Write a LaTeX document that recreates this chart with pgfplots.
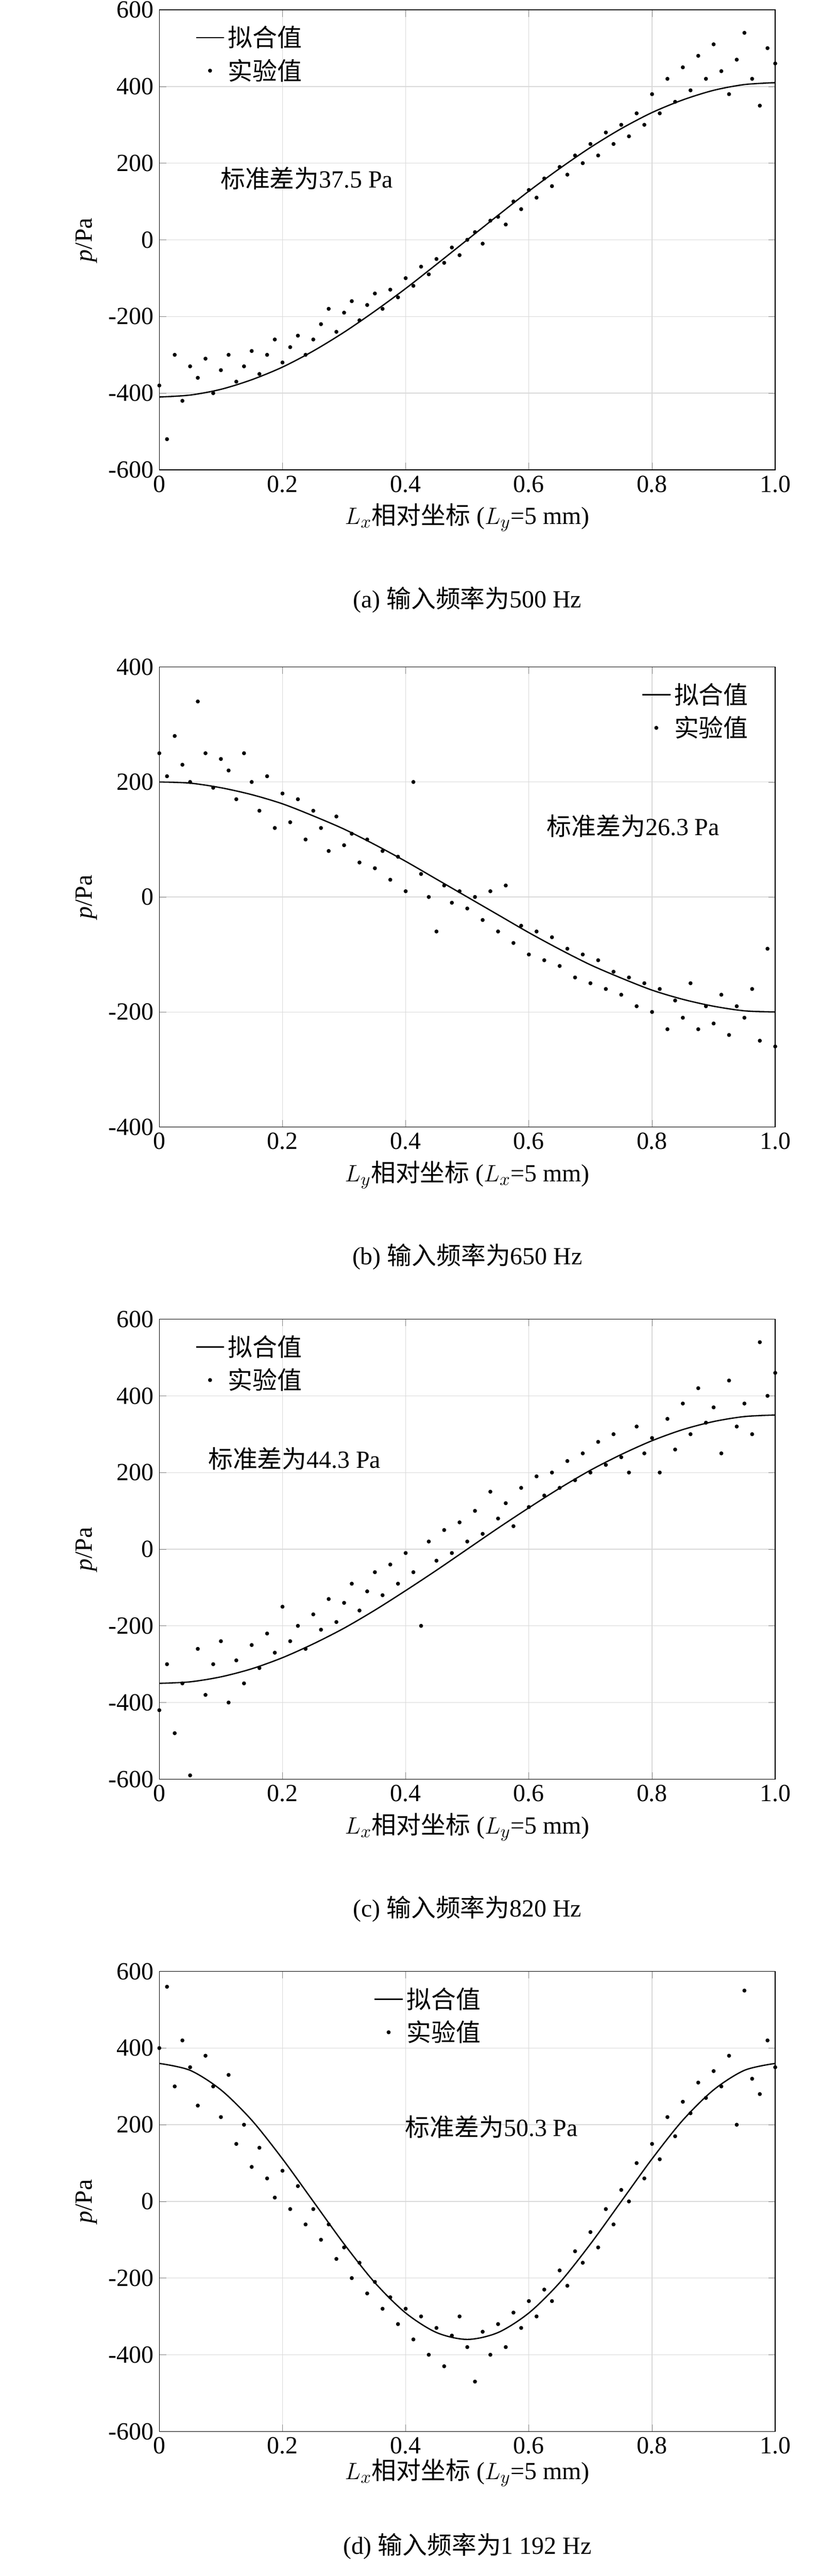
\documentclass[border=0pt]{standalone}
\usepackage{pgfplots}
\pgfplotsset{compat=1.18}
\usepackage{fontspec}
\setmainfont{Liberation Serif}
\newfontfamily\cjk{Noto Sans CJK SC}
\pgfplotsset{my/.style={width=375pt,height=280pt,scale only axis,xmin=0,xmax=1,
 xtick={0,0.2,0.4,0.6,0.8,1.0},xticklabels={0,0.2,0.4,0.6,0.8,1.0},
 grid=major,major grid style={gray!30},tick align=inside,
 /pgf/number format/assume math mode=true,
 ticklabel style={font=\fontsize{15}{18}\selectfont},
 label style={font=\fontsize{15}{18}\selectfont},
 ylabel={\textit{p}/Pa},clip=false,
 legend cell align=left,
 legend style={draw=none,fill=none,font=\fontsize{15}{18}\selectfont,row sep=2pt}},
 fit/.style={black,thick,no marks,smooth},
 dots/.style={only marks,mark=*,mark size=1pt,black}}
\begin{document}
\begin{tikzpicture}
\useasboundingbox (-97pt,0) rectangle (413pt,1568pt);
\begin{axis}[my,at={(0,1282pt)},ymin=-600,ymax=600,ytick={-600,-400,-200,0,200,400,600},
 xlabel={$L_x${\cjk 相对坐标} ($L_y$=5 mm)},legend style={at={(0.05,0.98)},anchor=north west}]
\addplot[fit] coordinates {(0,-410)(0.05,-405)(0.1,-390)(0.15,-365)(0.2,-332)(0.25,-290)(0.3,-241)(0.35,-186)(0.4,-127)(0.45,-64)(0.5,0)(0.55,64)(0.6,127)(0.65,186)(0.7,241)(0.75,290)(0.8,332)(0.85,365)(0.9,390)(0.95,405)(1,410)};
\addlegendentry{\cjk 拟合值}
\addplot[dots] coordinates {(0,-380)(0.0125,-520)(0.025,-300)(0.0375,-420)(0.05,-330)(0.0625,-360)(0.075,-310)(0.0875,-400)(0.1,-340)(0.1125,-300)(0.125,-370)(0.1375,-330)(0.15,-290)(0.1625,-350)(0.175,-300)(0.1875,-260)(0.2,-320)(0.2125,-280)(0.225,-250)(0.2375,-300)(0.25,-260)(0.2625,-220)(0.275,-180)(0.2875,-240)(0.3,-190)(0.3125,-160)(0.325,-210)(0.3375,-170)(0.35,-140)(0.3625,-180)(0.375,-130)(0.3875,-150)(0.4,-100)(0.4125,-120)(0.425,-70)(0.4375,-90)(0.45,-50)(0.4625,-60)(0.475,-20)(0.4875,-40)(0.5,0)(0.5125,20)(0.525,-10)(0.5375,50)(0.55,60)(0.5625,40)(0.575,100)(0.5875,80)(0.6,130)(0.6125,110)(0.625,160)(0.6375,140)(0.65,190)(0.6625,170)(0.675,220)(0.6875,200)(0.7,250)(0.7125,220)(0.725,280)(0.7375,250)(0.75,300)(0.7625,270)(0.775,330)(0.7875,300)(0.8,380)(0.8125,330)(0.825,420)(0.8375,360)(0.85,450)(0.8625,390)(0.875,480)(0.8875,420)(0.9,510)(0.9125,440)(0.925,380)(0.9375,470)(0.95,540)(0.9625,420)(0.975,350)(0.9875,500)(1,460)};
\addlegendentry{\cjk 实验值}
\node[anchor=west,font=\fontsize{15}{18}\selectfont] at (axis cs:0.09,160) {{\cjk 标准差为}37.5 Pa};
\node[font=\fontsize{15}{18}\selectfont] at (rel axis cs:0.5,0) [yshift=-79pt] {(a) {\cjk 输入频率为}500 Hz};
\end{axis}
\begin{axis}[my,at={(0,882pt)},ymin=-400,ymax=400,ytick={-400,-200,0,200,400},
 xlabel={$L_y${\cjk 相对坐标} ($L_x$=5 mm)},legend style={at={(0.97,0.98)},anchor=north east}]
\addplot[fit] coordinates {(0,200)(0.05,198)(0.1,190)(0.15,178)(0.2,162)(0.25,141)(0.3,118)(0.35,91)(0.4,62)(0.45,31)(0.5,0)(0.55,-31)(0.6,-62)(0.65,-91)(0.7,-118)(0.75,-141)(0.8,-162)(0.85,-178)(0.9,-190)(0.95,-198)(1,-200)};
\addlegendentry{\cjk 拟合值}
\addplot[dots] coordinates {(0,250)(0.0125,210)(0.025,280)(0.0375,230)(0.05,200)(0.0625,340)(0.075,250)(0.0875,190)(0.1,240)(0.1125,220)(0.125,170)(0.1375,250)(0.15,200)(0.1625,150)(0.175,210)(0.1875,120)(0.2,180)(0.2125,130)(0.225,170)(0.2375,100)(0.25,150)(0.2625,120)(0.275,80)(0.2875,140)(0.3,90)(0.3125,110)(0.325,60)(0.3375,100)(0.35,50)(0.3625,80)(0.375,30)(0.3875,70)(0.4,10)(0.4125,200)(0.425,40)(0.4375,0)(0.45,-60)(0.4625,20)(0.475,-10)(0.4875,10)(0.5,-20)(0.5125,0)(0.525,-40)(0.5375,10)(0.55,-60)(0.5625,20)(0.575,-80)(0.5875,-50)(0.6,-100)(0.6125,-60)(0.625,-110)(0.6375,-70)(0.65,-120)(0.6625,-90)(0.675,-140)(0.6875,-100)(0.7,-150)(0.7125,-110)(0.725,-160)(0.7375,-130)(0.75,-170)(0.7625,-140)(0.775,-190)(0.7875,-150)(0.8,-200)(0.8125,-160)(0.825,-230)(0.8375,-180)(0.85,-210)(0.8625,-150)(0.875,-230)(0.8875,-190)(0.9,-220)(0.9125,-170)(0.925,-240)(0.9375,-190)(0.95,-210)(0.9625,-160)(0.975,-250)(0.9875,-90)(1,-260)};
\addlegendentry{\cjk 实验值}
\node[anchor=west,font=\fontsize{15}{18}\selectfont] at (axis cs:0.62,123) {{\cjk 标准差为}26.3 Pa};
\node[font=\fontsize{15}{18}\selectfont] at (rel axis cs:0.5,0) [yshift=-79pt] {(b) {\cjk 输入频率为}650 Hz};
\end{axis}
\begin{axis}[my,at={(0,485pt)},ymin=-600,ymax=600,ytick={-600,-400,-200,0,200,400,600},
 xlabel={$L_x${\cjk 相对坐标} ($L_y$=5 mm)},legend style={at={(0.05,0.98)},anchor=north west}]
\addplot[fit] coordinates {(0,-350)(0.05,-346)(0.1,-333)(0.15,-312)(0.2,-283)(0.25,-247)(0.3,-206)(0.35,-159)(0.4,-108)(0.45,-55)(0.5,0)(0.55,55)(0.6,108)(0.65,159)(0.7,206)(0.75,247)(0.8,283)(0.85,312)(0.9,333)(0.95,346)(1,350)};
\addlegendentry{\cjk 拟合值}
\addplot[dots] coordinates {(0,-420)(0.0125,-300)(0.025,-480)(0.0375,-350)(0.05,-590)(0.0625,-260)(0.075,-380)(0.0875,-300)(0.1,-240)(0.1125,-400)(0.125,-290)(0.1375,-350)(0.15,-250)(0.1625,-310)(0.175,-220)(0.1875,-270)(0.2,-150)(0.2125,-240)(0.225,-200)(0.2375,-260)(0.25,-170)(0.2625,-210)(0.275,-130)(0.2875,-190)(0.3,-140)(0.3125,-90)(0.325,-160)(0.3375,-110)(0.35,-60)(0.3625,-120)(0.375,-40)(0.3875,-90)(0.4,-10)(0.4125,-60)(0.425,-200)(0.4375,20)(0.45,-30)(0.4625,50)(0.475,-10)(0.4875,70)(0.5,20)(0.5125,100)(0.525,40)(0.5375,150)(0.55,80)(0.5625,120)(0.575,60)(0.5875,160)(0.6,110)(0.6125,190)(0.625,140)(0.6375,200)(0.65,160)(0.6625,230)(0.675,180)(0.6875,250)(0.7,200)(0.7125,280)(0.725,220)(0.7375,300)(0.75,240)(0.7625,200)(0.775,320)(0.7875,250)(0.8,290)(0.8125,200)(0.825,340)(0.8375,260)(0.85,380)(0.8625,300)(0.875,420)(0.8875,330)(0.9,370)(0.9125,250)(0.925,440)(0.9375,320)(0.95,380)(0.9625,300)(0.975,540)(0.9875,400)(1,460)};
\addlegendentry{\cjk 实验值}
\node[anchor=west,font=\fontsize{15}{18}\selectfont] at (axis cs:0.07,236) {{\cjk 标准差为}44.3 Pa};
\node[font=\fontsize{15}{18}\selectfont] at (rel axis cs:0.5,0) [yshift=-79pt] {(c) {\cjk 输入频率为}820 Hz};
\end{axis}
\begin{axis}[my,at={(0,88pt)},ymin=-600,ymax=600,ytick={-600,-400,-200,0,200,400,600},
 xlabel={$L_x${\cjk 相对坐标} ($L_y$=5 mm)},xlabel style={yshift=4pt},legend style={at={(0.34,0.98)},anchor=north west}]
\addplot[fit] coordinates {(0,360)(0.05,342)(0.1,291)(0.15,212)(0.2,111)(0.25,0)(0.3,-111)(0.35,-212)(0.4,-291)(0.45,-342)(0.5,-360)(0.55,-342)(0.6,-291)(0.65,-212)(0.7,-111)(0.75,0)(0.8,111)(0.85,212)(0.9,291)(0.95,342)(1,360)};
\addlegendentry{\cjk 拟合值}
\addplot[dots] coordinates {(0,400)(0.0125,560)(0.025,300)(0.0375,420)(0.05,350)(0.0625,250)(0.075,380)(0.0875,300)(0.1,220)(0.1125,330)(0.125,150)(0.1375,200)(0.15,90)(0.1625,140)(0.175,60)(0.1875,10)(0.2,80)(0.2125,-20)(0.225,40)(0.2375,-60)(0.25,-20)(0.2625,-100)(0.275,-60)(0.2875,-150)(0.3,-120)(0.3125,-200)(0.325,-160)(0.3375,-240)(0.35,-210)(0.3625,-280)(0.375,-250)(0.3875,-320)(0.4,-280)(0.4125,-360)(0.425,-300)(0.4375,-400)(0.45,-330)(0.4625,-430)(0.475,-350)(0.4875,-300)(0.5,-380)(0.5125,-470)(0.525,-340)(0.5375,-400)(0.55,-320)(0.5625,-380)(0.575,-290)(0.5875,-330)(0.6,-260)(0.6125,-300)(0.625,-230)(0.6375,-260)(0.65,-180)(0.6625,-220)(0.675,-130)(0.6875,-160)(0.7,-80)(0.7125,-120)(0.725,-20)(0.7375,-60)(0.75,30)(0.7625,0)(0.775,100)(0.7875,60)(0.8,150)(0.8125,110)(0.825,220)(0.8375,170)(0.85,260)(0.8625,230)(0.875,310)(0.8875,270)(0.9,340)(0.9125,300)(0.925,380)(0.9375,200)(0.95,550)(0.9625,320)(0.975,280)(0.9875,420)(1,350)};
\addlegendentry{\cjk 实验值}
\node[anchor=west,font=\fontsize{15}{18}\selectfont] at (axis cs:0.39,194) {{\cjk 标准差为}50.3 Pa};
\node[font=\fontsize{15}{18}\selectfont] at (rel axis cs:0.5,0) [yshift=-70pt] {(d) {\cjk 输入频率为}1 192 Hz};
\end{axis}
\end{tikzpicture}
\end{document}
